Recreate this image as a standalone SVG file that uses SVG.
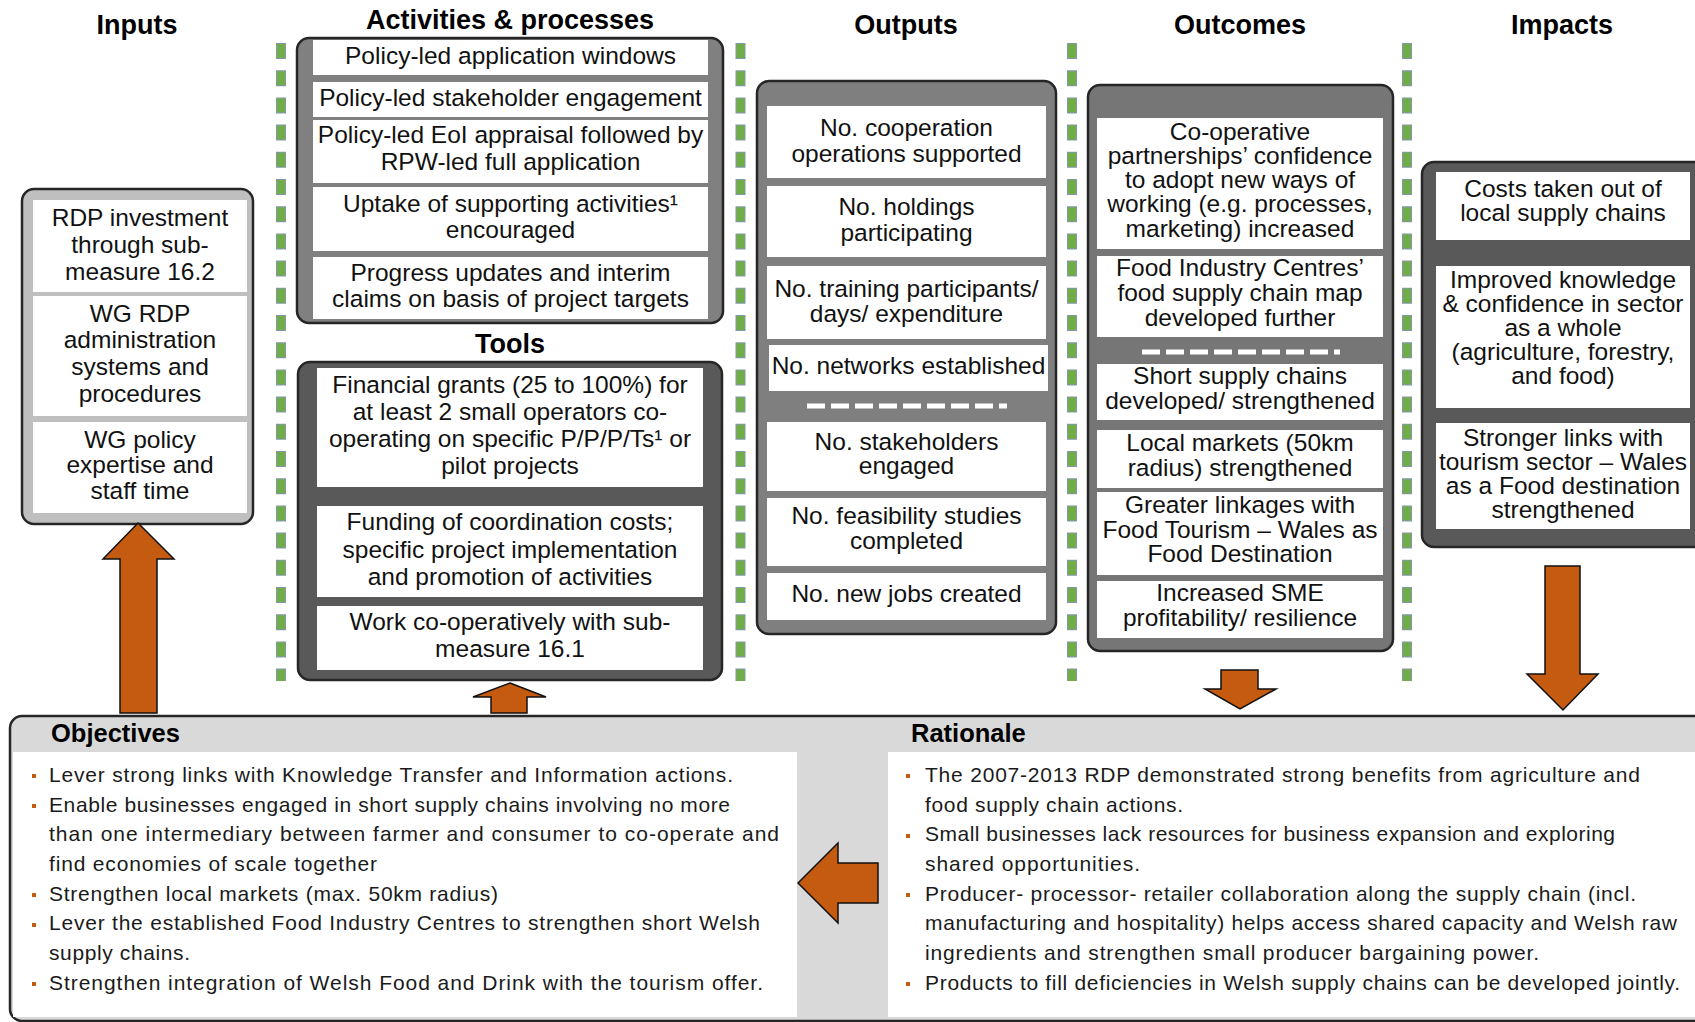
<svg xmlns="http://www.w3.org/2000/svg" width="1695" height="1022" viewBox="0 0 1695 1022">
<style>
text{font-family:"Liberation Sans",Arial,sans-serif;fill:#111}
.t{font-size:24.5px;text-anchor:middle}
.h{font-size:27px;font-weight:bold;text-anchor:middle;fill:#000}
.hl{font-size:25.5px;font-weight:bold;fill:#000}
.b{font-size:21px;fill:#1a1a1a}
.w{fill:#fff}
.frame{stroke:#262626;stroke-width:2.5}
.arrow{fill:#c55a11;stroke:#111;stroke-width:1.5;stroke-linejoin:miter}
.sepO{stroke:#8497b0;stroke-width:10;stroke-dasharray:16 11.2;fill:none}
.sepI{stroke:#70ad47;stroke-width:8;stroke-dasharray:14 13.2;stroke-dashoffset:-1;fill:none}
.dash{stroke:#fff;stroke-width:5;stroke-dasharray:18 6;fill:none}
.bul{fill:#c55a11}
</style>

<g id="headers">
<text class="h" x="137" y="34">Inputs</text>
<text class="h" x="510" y="29">Activities &amp; processes</text>
<text class="h" x="510" y="353">Tools</text>
<text class="h" x="906" y="34">Outputs</text>
<text class="h" x="1240" y="34">Outcomes</text>
<text class="h" x="1562" y="34">Impacts</text>
</g>

<g id="separators">
<line class="sepO" x1="281" y1="43" x2="281" y2="681"/>
<line class="sepI" x1="281" y1="43" x2="281" y2="681"/>
<line class="sepO" x1="740.5" y1="43" x2="740.5" y2="681"/>
<line class="sepI" x1="740.5" y1="43" x2="740.5" y2="681"/>
<line class="sepO" x1="1072" y1="43" x2="1072" y2="681"/>
<line class="sepI" x1="1072" y1="43" x2="1072" y2="681"/>
<line class="sepO" x1="1407" y1="43" x2="1407" y2="681"/>
<line class="sepI" x1="1407" y1="43" x2="1407" y2="681"/>
</g>

<g id="inputs">
<rect class="frame" x="22" y="189" width="231" height="335" rx="12" fill="#bfbfbf"/>
<rect class="w" x="33" y="200" width="214" height="92"/>
<rect class="w" x="33" y="296" width="214" height="120"/>
<rect class="w" x="33" y="422" width="214" height="91"/>
<text class="t" x="140" y="226">RDP investment</text>
<text class="t" x="140" y="253">through sub-</text>
<text class="t" x="140" y="280">measure 16.2</text>
<text class="t" x="140" y="322">WG RDP</text>
<text class="t" x="140" y="348">administration</text>
<text class="t" x="140" y="375">systems and</text>
<text class="t" x="140" y="402">procedures</text>
<text class="t" x="140" y="448">WG policy</text>
<text class="t" x="140" y="473">expertise and</text>
<text class="t" x="140" y="499">staff time</text>
</g>

<g id="activities">
<rect class="frame" x="297" y="38" width="426" height="285" rx="12" fill="#808080"/>
<rect class="w" x="313" y="40" width="395" height="35"/>
<rect class="w" x="313" y="82" width="395" height="35"/>
<rect class="w" x="313" y="120" width="395" height="63"/>
<rect class="w" x="313" y="187" width="395" height="64"/>
<rect class="w" x="313" y="257" width="395" height="62"/>
<text class="t" x="510.5" y="64">Policy-led application windows</text>
<text class="t" x="510.5" y="106">Policy-led stakeholder engagement</text>
<text class="t" x="510.5" y="143">Policy-led EoI appraisal followed by</text>
<text class="t" x="510.5" y="170">RPW-led full application</text>
<text class="t" x="510.5" y="212">Uptake of supporting activities¹</text>
<text class="t" x="510.5" y="238">encouraged</text>
<text class="t" x="510.5" y="281">Progress updates and interim</text>
<text class="t" x="510.5" y="307">claims on basis of project targets</text>
</g>

<g id="tools">
<rect class="frame" x="298" y="362" width="424" height="318" rx="12" fill="#595959"/>
<rect class="w" x="317" y="368" width="386" height="119"/>
<rect class="w" x="317" y="506" width="386" height="91"/>
<rect class="w" x="317" y="606" width="386" height="64"/>
<text class="t" x="510" y="393">Financial grants (25 to 100%) for</text>
<text class="t" x="510" y="420">at least 2 small operators co-</text>
<text class="t" x="510" y="447">operating on specific P/P/P/Ts¹ or</text>
<text class="t" x="510" y="474">pilot projects</text>
<text class="t" x="510" y="530">Funding of coordination costs;</text>
<text class="t" x="510" y="558">specific project implementation</text>
<text class="t" x="510" y="585">and promotion of activities</text>
<text class="t" x="510" y="630">Work co-operatively with sub-</text>
<text class="t" x="510" y="657">measure 16.1</text>
</g>

<g id="outputs">
<rect class="frame" x="757" y="81" width="299" height="553" rx="12" fill="#7f7f7f"/>
<rect class="w" x="767" y="106" width="279" height="72"/>
<rect class="w" x="767" y="186" width="279" height="71"/>
<rect class="w" x="767" y="266" width="279" height="73"/>
<rect class="w" x="769" y="345" width="279" height="46"/>
<line class="dash" x1="807" y1="406" x2="1007" y2="406"/>
<rect class="w" x="767" y="422" width="279" height="69"/>
<rect class="w" x="767" y="498" width="279" height="68"/>
<rect class="w" x="767" y="573" width="279" height="47"/>
<text class="t" x="906.5" y="136">No. cooperation</text>
<text class="t" x="906.5" y="162">operations supported</text>
<text class="t" x="906.5" y="215">No. holdings</text>
<text class="t" x="906.5" y="241">participating</text>
<text class="t" x="906.5" y="297">No. training participants/</text>
<text class="t" x="906.5" y="322">days/ expenditure</text>
<text class="t" x="908.5" y="374">No. networks established</text>
<text class="t" x="906.5" y="450">No. stakeholders</text>
<text class="t" x="906.5" y="474">engaged</text>
<text class="t" x="906.5" y="524">No. feasibility studies</text>
<text class="t" x="906.5" y="549">completed</text>
<text class="t" x="906.5" y="602">No. new jobs created</text>
</g>

<g id="outcomes">
<rect class="frame" x="1088" y="85" width="305" height="566" rx="12" fill="#767676"/>
<rect class="w" x="1097" y="118" width="286" height="131"/>
<rect class="w" x="1097" y="256" width="286" height="81"/>
<line class="dash" x1="1142" y1="352" x2="1340" y2="352"/>
<rect class="w" x="1097" y="364" width="286" height="56"/>
<rect class="w" x="1097" y="430" width="286" height="58"/>
<rect class="w" x="1097" y="492" width="286" height="83"/>
<rect class="w" x="1097" y="581" width="286" height="57"/>
<text class="t" x="1240" y="140">Co-operative</text>
<text class="t" x="1240" y="164">partnerships’ confidence</text>
<text class="t" x="1240" y="188">to adopt new ways of</text>
<text class="t" x="1240" y="212">working (e.g. processes,</text>
<text class="t" x="1240" y="237">marketing) increased</text>
<text class="t" x="1240" y="276">Food Industry Centres’</text>
<text class="t" x="1240" y="301">food supply chain map</text>
<text class="t" x="1240" y="326">developed further</text>
<text class="t" x="1240" y="384">Short supply chains</text>
<text class="t" x="1240" y="409">developed/ strengthened</text>
<text class="t" x="1240" y="451">Local markets (50km</text>
<text class="t" x="1240" y="476">radius) strengthened</text>
<text class="t" x="1240" y="513">Greater linkages with</text>
<text class="t" x="1240" y="538">Food Tourism – Wales as</text>
<text class="t" x="1240" y="562">Food Destination</text>
<text class="t" x="1240" y="601">Increased SME</text>
<text class="t" x="1240" y="626">profitability/ resilience</text>
</g>

<g id="impacts">
<rect class="frame" x="1422" y="162" width="290" height="385" rx="12" fill="#595959"/>
<rect class="w" x="1436" y="172" width="254" height="68"/>
<rect class="w" x="1436" y="266" width="254" height="142"/>
<rect class="w" x="1436" y="423" width="254" height="106"/>
<text class="t" x="1563" y="197">Costs taken out of</text>
<text class="t" x="1563" y="221">local supply chains</text>
<text class="t" x="1563" y="288">Improved knowledge</text>
<text class="t" x="1563" y="312">&amp; confidence in sector</text>
<text class="t" x="1563" y="336">as a whole</text>
<text class="t" x="1563" y="360">(agriculture, forestry,</text>
<text class="t" x="1563" y="384">and food)</text>
<text class="t" x="1563" y="446">Stronger links with</text>
<text class="t" x="1563" y="470">tourism sector – Wales</text>
<text class="t" x="1563" y="494">as a Food destination</text>
<text class="t" x="1563" y="518">strengthened</text>
</g>

<g id="objectives-rationale">
<rect class="frame" x="10" y="716" width="1700" height="305" rx="12" fill="#d9d9d9"/>
<rect class="w" x="13" y="752" width="784" height="265"/>
<rect class="w" x="888" y="752" width="820" height="265"/>
</g>

<g id="objectives">
<text class="hl" x="51" y="742">Objectives</text>
<rect class="bul" x="32" y="774" width="4" height="4"/>
<rect class="bul" x="32" y="804" width="4" height="4"/>
<rect class="bul" x="32" y="893" width="4" height="4"/>
<rect class="bul" x="32" y="923" width="4" height="4"/>
<rect class="bul" x="32" y="982" width="4" height="4"/>
<text class="b" x="49" y="782" textLength="684">Lever strong links with Knowledge Transfer and Information actions.</text>
<text class="b" x="49" y="812" textLength="681">Enable businesses engaged in short supply chains involving no more</text>
<text class="b" x="49" y="841" textLength="730">than one intermediary between farmer and consumer to co-operate and</text>
<text class="b" x="49" y="871" textLength="328">find economies of scale together</text>
<text class="b" x="49" y="901" textLength="449">Strengthen local markets (max. 50km radius)</text>
<text class="b" x="49" y="930" textLength="711">Lever the established Food Industry Centres to strengthen short Welsh</text>
<text class="b" x="49" y="960" textLength="141">supply chains.</text>
<text class="b" x="49" y="990" textLength="714">Strengthen integration of Welsh Food and Drink with the tourism offer.</text>
</g>

<g id="rationale">
<text class="hl" x="911" y="742">Rationale</text>
<rect class="bul" x="906" y="774" width="4" height="4"/>
<rect class="bul" x="906" y="834" width="4" height="4"/>
<rect class="bul" x="906" y="893" width="4" height="4"/>
<rect class="bul" x="906" y="982" width="4" height="4"/>
<text class="b" x="925" y="782" textLength="715">The 2007-2013 RDP demonstrated strong benefits from agriculture and</text>
<text class="b" x="925" y="812" textLength="258">food supply chain actions.</text>
<text class="b" x="925" y="841" textLength="690">Small businesses lack resources for business expansion and exploring</text>
<text class="b" x="925" y="871" textLength="215">shared opportunities.</text>
<text class="b" x="925" y="901" textLength="711">Producer- processor- retailer collaboration along the supply chain (incl.</text>
<text class="b" x="925" y="930" textLength="752">manufacturing and hospitality) helps access shared capacity and Welsh raw</text>
<text class="b" x="925" y="960" textLength="614">ingredients and strengthen small producer bargaining power.</text>
<text class="b" x="925" y="990" textLength="755">Products to fill deficiencies in Welsh supply chains can be developed jointly.</text>
</g>

<g id="connectors">
<polygon class="arrow" points="138,523 174,559 157,559 157,713 120,713 120,559 103,559"/>
<polygon class="arrow" points="510,683 546,697 527,697 527,713 491,713 491,697 473,697"/>
<polygon class="arrow" points="1221,670 1258,670 1258,689 1276,689 1240,709 1205,689 1221,689"/>
<polygon class="arrow" points="1545,566 1580,566 1580,674 1598,674 1563,710 1527,674 1545,674"/>
<polygon class="arrow" points="798,883 838,843 838,863 878,863 878,903 838,903 838,923"/>
</g>
</svg>
